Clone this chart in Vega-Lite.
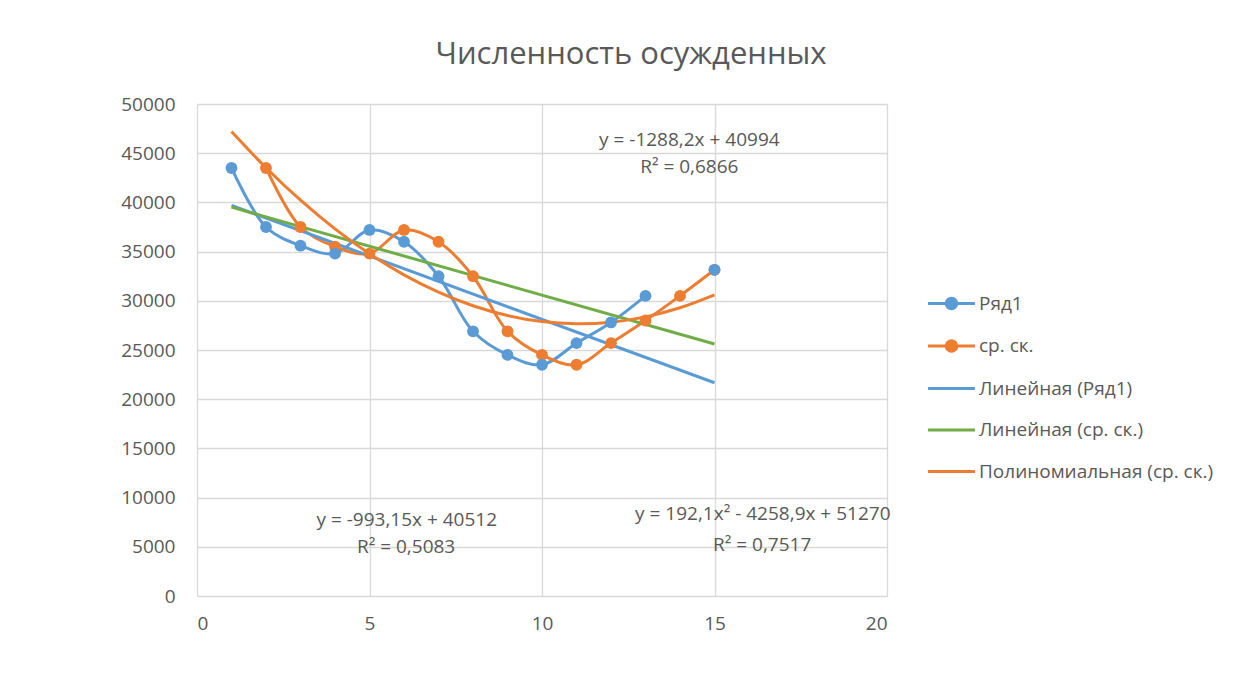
{
  "$schema": "https://vega.github.io/schema/vega-lite/v6.json",
  "width": 690,
  "height": 492,
  "autosize": {"type": "none"},
  "padding": {"left": 197, "top": 104, "right": 368, "bottom": 95},
  "background": "white",
  "title": {
    "text": "Численность осужденных",
    "font": "Open Sans",
    "fontSize": 31,
    "fontWeight": "normal",
    "color": "#595959",
    "anchor": "middle",
    "dx": 89,
    "offset": 24
  },
  "config": {
    "view": {"stroke": null},
    "axis": {
      "labelFont": "Open Sans",
      "labelFontSize": 19,
      "labelColor": "#595959",
      "ticks": false,
      "domain": false,
      "grid": true,
      "gridColor": "#d9d9d9",
      "gridWidth": 1.3,
      "title": null
    }
  },
  "datasets": {
    "lines": [
      {"series": "Ряд1", "x": 1, "y": 43500},
      {"series": "Ряд1", "x": 2, "y": 37500},
      {"series": "Ряд1", "x": 3, "y": 35600},
      {"series": "Ряд1", "x": 4, "y": 34800},
      {"series": "Ряд1", "x": 5, "y": 37200},
      {"series": "Ряд1", "x": 6, "y": 36000},
      {"series": "Ряд1", "x": 7, "y": 32500},
      {"series": "Ряд1", "x": 8, "y": 26900},
      {"series": "Ряд1", "x": 9, "y": 24500},
      {"series": "Ряд1", "x": 10, "y": 23500},
      {"series": "Ряд1", "x": 11, "y": 25700},
      {"series": "Ряд1", "x": 12, "y": 27800},
      {"series": "Ряд1", "x": 13, "y": 30500},
      {"series": "ср. ск.", "x": 2, "y": 43500},
      {"series": "ср. ск.", "x": 3, "y": 37500},
      {"series": "ср. ск.", "x": 4, "y": 35500},
      {"series": "ср. ск.", "x": 5, "y": 34800},
      {"series": "ср. ск.", "x": 6, "y": 37200},
      {"series": "ср. ск.", "x": 7, "y": 36000},
      {"series": "ср. ск.", "x": 8, "y": 32500},
      {"series": "ср. ск.", "x": 9, "y": 26900},
      {"series": "ср. ск.", "x": 10, "y": 24500},
      {"series": "ср. ск.", "x": 11, "y": 23500},
      {"series": "ср. ск.", "x": 12, "y": 25700},
      {"series": "ср. ск.", "x": 13, "y": 28000},
      {"series": "ср. ск.", "x": 14, "y": 30500},
      {"series": "ср. ск.", "x": 15, "y": 33150},
      {"series": "Линейная (Ряд1)", "x": 1, "y": 39706},
      {"series": "Линейная (Ряд1)", "x": 15, "y": 21671},
      {"series": "Линейная (ср. ск.)", "x": 1, "y": 39519},
      {"series": "Линейная (ср. ск.)", "x": 15, "y": 25616},
      {"series": "Полиномиальная (ср. ск.)", "x": 1, "y": 47203},
      {"series": "Полиномиальная (ср. ск.)", "x": 2, "y": 43521},
      {"series": "Полиномиальная (ср. ск.)", "x": 3, "y": 40222},
      {"series": "Полиномиальная (ср. ск.)", "x": 4, "y": 37308},
      {"series": "Полиномиальная (ср. ск.)", "x": 5, "y": 34778},
      {"series": "Полиномиальная (ср. ск.)", "x": 6, "y": 32632},
      {"series": "Полиномиальная (ср. ск.)", "x": 7, "y": 30871},
      {"series": "Полиномиальная (ср. ск.)", "x": 8, "y": 29493},
      {"series": "Полиномиальная (ср. ск.)", "x": 9, "y": 28500},
      {"series": "Полиномиальная (ср. ск.)", "x": 10, "y": 27891},
      {"series": "Полиномиальная (ср. ск.)", "x": 11, "y": 27666},
      {"series": "Полиномиальная (ср. ск.)", "x": 12, "y": 27826},
      {"series": "Полиномиальная (ср. ск.)", "x": 13, "y": 28369},
      {"series": "Полиномиальная (ср. ск.)", "x": 14, "y": 29297},
      {"series": "Полиномиальная (ср. ск.)", "x": 15, "y": 30609}
    ],
    "points": [
      {"series": "ср. ск.", "x": 2, "y": 43500},
      {"series": "ср. ск.", "x": 3, "y": 37500},
      {"series": "ср. ск.", "x": 4, "y": 35500},
      {"series": "ср. ск.", "x": 5, "y": 34800},
      {"series": "ср. ск.", "x": 6, "y": 37200},
      {"series": "ср. ск.", "x": 7, "y": 36000},
      {"series": "ср. ск.", "x": 8, "y": 32500},
      {"series": "ср. ск.", "x": 9, "y": 26900},
      {"series": "ср. ск.", "x": 10, "y": 24500},
      {"series": "ср. ск.", "x": 11, "y": 23500},
      {"series": "ср. ск.", "x": 12, "y": 25700},
      {"series": "ср. ск.", "x": 13, "y": 28000},
      {"series": "ср. ск.", "x": 14, "y": 30500},
      {"series": "ср. ск.", "x": 15, "y": 33150},
      {"series": "Ряд1", "x": 1, "y": 43500},
      {"series": "Ряд1", "x": 2, "y": 37500},
      {"series": "Ряд1", "x": 3, "y": 35600},
      {"series": "Ряд1", "x": 4, "y": 34800},
      {"series": "Ряд1", "x": 5, "y": 37200},
      {"series": "Ряд1", "x": 6, "y": 36000},
      {"series": "Ряд1", "x": 7, "y": 32500},
      {"series": "Ряд1", "x": 8, "y": 26900},
      {"series": "Ряд1", "x": 9, "y": 24500},
      {"series": "Ряд1", "x": 10, "y": 23500},
      {"series": "Ряд1", "x": 11, "y": 25700},
      {"series": "Ряд1", "x": 12, "y": 27800},
      {"series": "Ряд1", "x": 13, "y": 30500},
      {"series": "Ряд1", "x": 15, "y": 33150}
    ],
    "labels": [
      {"text": "y = -1288,2x + 40994", "x": 14.27, "y": 46340},
      {"text": "R² = 0,6866", "x": 14.27, "y": 43600},
      {"text": "y = -993,15x + 40512", "x": 6.08, "y": 7720},
      {"text": "R² = 0,5083", "x": 6.06, "y": 4980},
      {"text": "y = 192,1x² - 4258,9x + 51270", "x": 16.4, "y": 8330},
      {"text": "R² = 0,7517", "x": 16.38, "y": 5180}
    ]
  },
  "encoding": {
    "x": {
      "field": "x",
      "type": "quantitative",
      "scale": {"domain": [0, 20], "nice": false, "zero": false},
      "axis": {"values": [0, 5, 10, 15, 20], "labelPadding": 18}
    },
    "y": {
      "field": "y",
      "type": "quantitative",
      "scale": {"domain": [0, 50000], "nice": false},
      "axis": {
        "values": [0, 5000, 10000, 15000, 20000, 25000, 30000, 35000, 40000, 45000, 50000],
        "format": "d",
        "labelPadding": 22
      }
    }
  },
  "layer": [
    {
      "data": {"name": "lines"},
      "mark": {"type": "line", "interpolate": "catmull-rom", "strokeWidth": 3},
      "encoding": {
        "color": {
          "field": "series",
          "type": "nominal",
          "sort": null,
          "scale": {
            "domain": ["Ряд1", "ср. ск.", "Линейная (Ряд1)", "Линейная (ср. ск.)", "Полиномиальная (ср. ск.)"],
            "range": ["#5B9BD5", "#ED7D31", "#5B9BD5", "#70AD47", "#ED7D31"]
          },
          "legend": {
            "orient": "none",
            "legendX": 741,
            "legendY": 186,
            "title": null,
            "padding": 0,
            "labelFont": "Open Sans",
            "labelFontSize": 19,
            "labelColor": "#595959",
            "labelOffset": 14,
            "symbolSize": 550,
            "symbolStrokeWidth": 3,
            "rowPadding": 17.5,
            "labelLimit": 400,
            "encode": {
              "symbols": {
                "update": {
                  "shape": {"signal": "(datum.value == 'Ряд1' || datum.value == 'ср. ск.') ? 'M-2,0H2M0.45,0A0.45,0.45,0,1,1,-0.45,0A0.45,0.45,0,1,1,0.45,0Z' : 'M-2,0H2'"},
                  "fill": {"signal": "scale('color', datum.value)"},
                  "stroke": {"signal": "scale('color', datum.value)"},
                  "opacity": {"value": 1},
                  "fillOpacity": {"value": 1},
                  "strokeOpacity": {"value": 1}
                }
              }
            }
          }
        }
      }
    },
    {
      "data": {"name": "points"},
      "mark": {"type": "point", "filled": true, "size": 140, "opacity": 1},
      "encoding": {
        "color": {"field": "series", "type": "nominal", "sort": null}
      }
    },
    {
      "data": {"name": "labels"},
      "mark": {
        "type": "text",
        "font": "Open Sans",
        "fontSize": 19,
        "color": "#595959",
        "align": "center",
        "baseline": "middle"
      },
      "encoding": {
        "text": {"field": "text"}
      }
    }
  ]
}
